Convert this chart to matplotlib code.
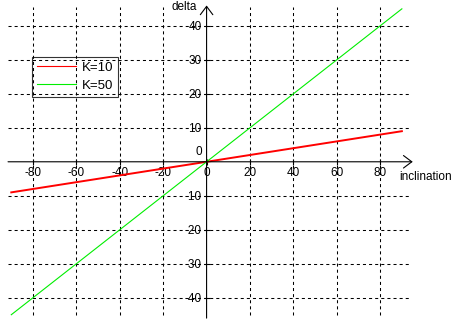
import matplotlib
matplotlib.use("Agg")
import matplotlib.pyplot as plt

# data
inclination = [-90, 90]
delta_k10 = [-9, 9]
delta_k50 = [-45, 45]
series_labels = ["K=10", "K=50"]
series_colors = ["#ff0000", "#00ee00"]

x_ticks = [-80, -60, -40, -20, 0, 20, 40, 60, 80]
y_ticks = [-40, -30, -20, -10, 10, 20, 30, 40]

plt.rcParams['font.family'] = ['Liberation Sans', 'DejaVu Sans']
plt.rcParams['lines.scale_dashes'] = False

fig = plt.figure(figsize=(4.52, 3.29), dpi=100)
ax = fig.add_axes([0, 0, 1, 1])
ax.set_xlim(-95.2, 113.1)
ax.set_ylim(-49.2, 47.6)

# axes through the origin
for side in ['top', 'right', 'bottom', 'left']:
    ax.spines[side].set_visible(False)
ax.spines['bottom'].set_position(('data', 0))
ax.spines['left'].set_position(('data', 0))

# dashed grid
dash = (0, (2.2, 2.2))
ax.vlines([t for t in x_ticks if t != 0], -45.1, 45.5, colors='black',
          linewidth=0.75, linestyles=[dash])
ax.hlines(y_ticks, -91.5, 93.8, colors='black', linewidth=0.75, linestyles=[dash])

# axis arrows
arrow = dict(arrowstyle='->,head_length=0.6,head_width=0.45', color='black',
             lw=0.8, shrinkA=0, shrinkB=0)
ax.annotate('', xy=(95, 0), xytext=(-91.5, 0), arrowprops=arrow)
ax.annotate('', xy=(0, 46), xytext=(0, -46), arrowprops=arrow)

# lines
ax.plot(inclination, delta_k10, color=series_colors[0], linewidth=1.4,
        label=series_labels[0])
ax.plot(inclination, delta_k50, color=series_colors[1], linewidth=0.8,
        label=series_labels[1])

ax.set_xticks(x_ticks)
ax.set_xticklabels([str(t) for t in x_ticks])
ax.set_yticks(y_ticks)
ax.set_yticklabels([str(t) for t in y_ticks])
ax.tick_params(direction='inout', length=4.3, width=0.8, pad=1.5,
               labelsize=8.5, colors='black')
ax.annotate('0', xy=(0, 0), xytext=(-3, 3), textcoords='offset points',
            ha='right', va='bottom', fontsize=8.5)

ax.text(-10.4, 45.5, 'delta', ha='center', va='center', fontsize=8.5)
ax.text(100.7, -4.5, 'inclination', ha='center', va='center', fontsize=8.5)

leg = ax.legend(loc='upper left', bbox_to_anchor=(32 / 452, 1 - 57 / 329),
                bbox_transform=fig.transFigure, borderaxespad=0,
                fancybox=False, frameon=True, fontsize=9.5,
                handlelength=3.0, handletextpad=0.4, labelspacing=0.45,
                borderpad=0.35)
leg.get_frame().set_edgecolor('black')
leg.get_frame().set_facecolor('none')
leg.get_frame().set_linewidth(0.8)
for line in leg.get_lines():
    line.set_linewidth(0.8)

fig.savefig('out.png', dpi=100)
